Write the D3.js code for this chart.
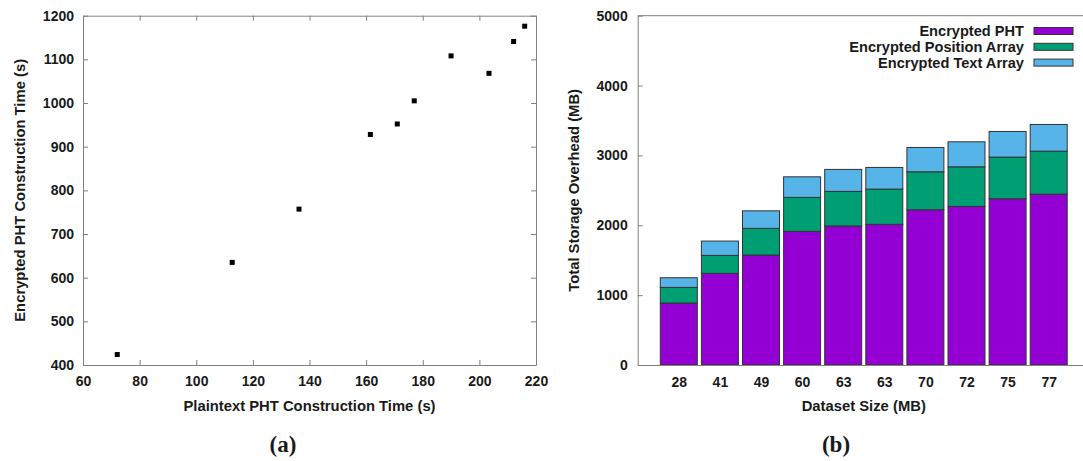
<!DOCTYPE html>
<html>
<head>
<meta charset="utf-8">
<script src="https://cdn.jsdelivr.net/npm/d3@7"></script>
<style>
	body { margin: 0; background: #fff; }
	svg text { font-family: "Liberation Sans", Arial, sans-serif; font-weight: bold; fill: #1a1a1a; }
	.caption { font-family: "Liberation Serif", "DejaVu Serif", serif; font-size: 23px; }
	.title { font-size: 14.8px; }
	.axis .domain { stroke: #808080; }
	.axis .tick line { stroke: #808080; }
	.axis text { font-size: 14px; font-family: "Liberation Sans", Arial, sans-serif; font-weight: bold; fill: #1a1a1a; }
</style>
</head>
<body>
<div id="chart"></div>
<script>
// (a) scatter: plaintext vs encrypted PHT construction time
const plainTime = [72.1, 112.7, 136.3, 161.5, 171, 177, 190, 203.4, 212.1, 216];
const encTime = [424, 635, 757, 928, 952, 1005, 1108, 1068, 1141, 1176];
const scatterXTicks = [60, 80, 100, 120, 140, 160, 180, 200, 220];
const scatterYTicks = [400, 500, 600, 700, 800, 900, 1000, 1100, 1200];

// (b) stacked bars: storage overhead per dataset
const datasetSizes = ["28", "41", "49", "60", "63", "63", "70", "72", "75", "77"];
const phtMB = [887, 1312, 1574, 1913, 1990, 2013, 2222, 2270, 2380, 2446];
const positionMB = [224, 257, 382, 486, 495, 505, 544, 567, 596, 615];
const textMB = [138, 205, 251, 295, 315, 310, 348, 358, 367, 382];
const barYTicks = [0, 1000, 2000, 3000, 4000, 5000];
const seriesNames = ["Encrypted PHT", "Encrypted Position Array", "Encrypted Text Array"];
const seriesColors = ["#9400d3", "#009e73", "#56b4e9"];

const fmt = d3.format("d");
const svg = d3.select("#chart").append("svg").attr("width", 1083).attr("height", 461);

// ---------- left chart ----------
const a = {left: 83, right: 536, top: 15.7, bottom: 365};
const xa = d3.scaleLinear().domain([60, 220]).range([a.left, a.right]);
const ya = d3.scaleLinear().domain([400, 1200]).range([a.bottom, a.top]);

svg.append("g").attr("class", "axis")
	.attr("transform", `translate(0,${a.bottom})`)
	.call(d3.axisBottom(xa).tickValues(scatterXTicks).tickFormat(fmt).tickSizeInner(-5).tickSizeOuter(0).tickPadding(11))
	.call(g => g.select(".domain").attr("stroke", "#555"));
svg.append("g").attr("class", "axis")
	.attr("transform", `translate(0,${a.top})`)
	.call(d3.axisTop(xa).tickValues(scatterXTicks).tickSizeInner(-5).tickSizeOuter(0).tickFormat(""));
svg.append("g").attr("class", "axis")
	.attr("transform", `translate(${a.left},0)`)
	.call(d3.axisLeft(ya).tickValues(scatterYTicks).tickFormat(fmt).tickSizeInner(-5).tickSizeOuter(0).tickPadding(9));
svg.append("g").attr("class", "axis")
	.attr("transform", `translate(${a.right},0)`)
	.call(d3.axisRight(ya).tickValues(scatterYTicks).tickSizeInner(-5).tickSizeOuter(0).tickFormat(""));

svg.append("g")
	.selectAll("rect")
	.data(plainTime.map((d, i) => ({x: d, y: encTime[i]})))
	.enter()
	.append("rect")
	.attr("x", d => xa(d.x) - 2.5)
	.attr("y", d => ya(d.y) - 2.5)
	.attr("width", 5)
	.attr("height", 5)
	.attr("fill", "#000");

svg.append("text").attr("class", "title")
	.attr("transform", `translate(25,${(a.top + a.bottom) / 2}) rotate(-90)`)
	.attr("text-anchor", "middle")
	.text("Encrypted PHT Construction Time (s)");
svg.append("text").attr("class", "title")
	.attr("x", (a.left + a.right) / 2)
	.attr("y", 411)
	.attr("text-anchor", "middle")
	.text("Plaintext PHT Construction Time (s)");
svg.append("text").attr("class", "caption")
	.attr("x", 283).attr("y", 452).attr("text-anchor", "middle").text("(a)");

// ---------- right chart ----------
const b = {left: 637.7, right: 1089.8, top: 15.7, bottom: 365};
const xb = d3.scaleLinear().domain([-1, 10]).range([b.left, b.right]);
const yb = d3.scaleLinear().domain([0, 5000]).range([b.bottom, b.top]);
const barW = (xb(1) - xb(0)) * 0.9;

svg.append("line")
	.attr("x1", b.left).attr("x2", b.right)
	.attr("y1", b.top).attr("y2", b.top)
	.attr("stroke", "#808080");
svg.append("g").attr("class", "axis")
	.attr("transform", `translate(${b.left},0)`)
	.call(d3.axisLeft(yb).tickValues(barYTicks).tickFormat(fmt).tickSizeInner(-5).tickSizeOuter(0).tickPadding(10));

const stacks = datasetSizes.map((name, i) => {
	const vals = [phtMB[i], positionMB[i], textMB[i]];
	let acc = 0;
	return vals.map((v, k) => {
		const seg = {i: i, k: k, y0: acc, y1: acc + v};
		acc += v;
		return seg;
	});
}).flat();

svg.append("g")
	.selectAll("rect")
	.data(stacks)
	.enter()
	.append("rect")
	.attr("x", d => xb(d.i) - barW / 2)
	.attr("y", d => yb(d.y1))
	.attr("width", barW)
	.attr("height", d => yb(d.y0) - yb(d.y1))
	.attr("fill", d => seriesColors[d.k])
	.attr("stroke", "#333")
	.attr("stroke-width", 1);

svg.append("g").attr("class", "axis")
	.attr("transform", `translate(0,${b.bottom})`)
	.call(d3.axisBottom(xb).tickValues(d3.range(datasetSizes.length)).tickSize(0).tickPadding(12)
		.tickFormat(i => datasetSizes[i]))
	.call(g => g.select(".domain").attr("stroke", "#555"));

svg.append("text").attr("class", "title")
	.attr("transform", `translate(579,${(b.top + b.bottom) / 2}) rotate(-90)`)
	.attr("text-anchor", "middle")
	.text("Total Storage Overhead (MB)");
svg.append("text").attr("class", "title")
	.attr("x", (b.left + b.right) / 2)
	.attr("y", 411)
	.attr("text-anchor", "middle")
	.text("Dataset Size (MB)");
svg.append("text").attr("class", "caption")
	.attr("x", 836).attr("y", 452).attr("text-anchor", "middle").text("(b)");

// legend
const legend = svg.append("g")
	.selectAll("g")
	.data(seriesNames)
	.enter()
	.append("g")
	.attr("transform", (d, i) => `translate(0,${31 + i * 15.8})`);
legend.append("text")
	.attr("x", 1024)
	.attr("y", 5)
	.attr("text-anchor", "end")
	.style("font-size", "14.6px")
	.text(d => d);
legend.append("rect")
	.attr("x", 1034)
	.attr("y", -3.5)
	.attr("width", 39)
	.attr("height", 7)
	.attr("fill", (d, i) => seriesColors[i])
	.attr("stroke", "#333");
</script>
</body>
</html>
